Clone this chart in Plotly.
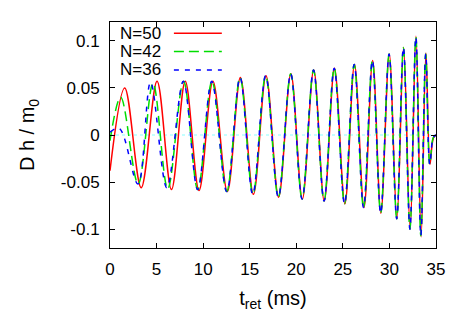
import plotly.graph_objects as go

# N=50 (red, solid) - extrema
t_n50 = [0.0, 1.58, 3.35, 5.05, 6.6, 8.08, 9.56, 11.05, 12.6, 14.0, 15.4, 16.75,
         18.1, 19.42, 20.65, 21.87, 23.0, 24.1, 25.22, 26.25, 27.27, 28.2, 29.08,
         29.98, 30.8, 31.52, 32.22, 32.85, 33.4, 33.92, 34.35, 34.72, 35.0]
h_n50 = [-0.038, 0.050, -0.056, 0.057, -0.058, 0.057, -0.059, 0.057, -0.060, 0.061,
         -0.063, 0.063, -0.066, 0.065, -0.068, 0.069, -0.070, 0.071, -0.073, 0.075,
         -0.077, 0.079, -0.083, 0.086, -0.089, 0.093, -0.100, 0.105, -0.108, 0.087,
         -0.031, -0.003, 0.0]

# N=42 (green, long dash)
t_n42 = [0.0, 1.15, 3.02, 4.62, 6.2, 7.9, 9.42, 10.95, 12.53, 13.96, 15.35, 16.71,
         18.07, 19.4, 20.62, 21.85, 22.98, 24.07, 25.18, 26.22, 27.22, 28.17, 29.06,
         29.96, 30.78, 31.5, 32.2, 32.84, 33.37, 33.9, 34.33, 34.7, 35.0]
h_n42 = [-0.006, 0.040, -0.052, 0.055, -0.057, 0.057, -0.058, 0.057, -0.060, 0.061,
         -0.063, 0.063, -0.066, 0.065, -0.068, 0.069, -0.070, 0.071, -0.073, 0.075,
         -0.077, 0.079, -0.083, 0.086, -0.089, 0.093, -0.100, 0.104, -0.107, 0.086,
         -0.031, -0.003, 0.0]

# N=36 (blue, short dash)
t_n36 = [0.0, 1.0, 3.0, 4.35, 6.1, 7.87, 9.41, 10.92, 12.53, 13.96, 15.32, 16.71,
         18.07, 19.4, 20.62, 21.85, 22.98, 24.07, 25.18, 26.22, 27.22, 28.17, 29.06,
         29.96, 30.78, 31.5, 32.2, 32.84, 33.37, 33.9, 34.33, 34.7, 35.0]
h_n36 = [0.003, 0.007, -0.052, 0.056, -0.056, 0.057, -0.058, 0.057, -0.060, 0.061,
         -0.063, 0.063, -0.066, 0.065, -0.068, 0.069, -0.070, 0.071, -0.073, 0.075,
         -0.077, 0.079, -0.083, 0.086, -0.089, 0.093, -0.100, 0.104, -0.107, 0.086,
         -0.031, -0.003, 0.0]

series = [
    ("N=50", t_n50, h_n50, "#ff0000", "solid"),
    ("N=42", t_n42, h_n42, "#00dd00", "10px,5px"),
    ("N=36", t_n36, h_n36, "#0000ff", "5px,6px"),
]

x_ticks = [0, 5, 10, 15, 20, 25, 30, 35]
y_ticks = [-0.1, -0.05, 0, 0.05, 0.1]
y_labels = ["-0.1", "-0.05", "0", "0.05", "0.1"]

FONT = "Liberation Sans, Arial, sans-serif"

fig = go.Figure()

for name, t, h, col, dash in series:
    fig.add_trace(go.Scatter(
        x=t, y=h,
        mode="lines",
        line=dict(color=col, width=1.5, dash=dash, shape="spline", smoothing=1.0),
        name=name,
        showlegend=False,
    ))

# gnuplot-style key: text first, line sample after
key_y = [0.950, 0.869, 0.788]
for (name, t, h, col, dash), ky in zip(series, key_y):
    fig.add_annotation(
        x=0.163, y=ky, xref="paper", yref="paper",
        text=name, showarrow=False, xanchor="right", yanchor="middle",
        font=dict(family=FONT, size=17, color="black"),
    )
    fig.add_shape(
        type="line", xref="paper", yref="paper",
        x0=0.196, x1=0.343, y0=ky, y1=ky,
        line=dict(color=col, width=1.5, dash=dash),
    )

# dotted zero axis
fig.add_shape(
    type="line", xref="paper", yref="y",
    x0=0, x1=1, y0=0, y1=0,
    line=dict(color="#88ffff", width=1, dash="dot"),
    layer="below",
)

# page body has an 8px margin, so the margins are reduced by 8 on left/top
fig.update_layout(
    width=463, height=324,
    margin=dict(l=102, r=35, t=14, b=84),
    paper_bgcolor="white",
    plot_bgcolor="white",
    font=dict(family=FONT, size=17, color="black"),
    xaxis=dict(
        range=[0, 35],
        tickvals=x_ticks,
        ticks="inside", ticklen=5, tickcolor="black",
        showline=True, linecolor="black", linewidth=1, mirror="ticks",
        showgrid=False, zeroline=False, automargin=False,
        ticklabelstandoff=6,
        title=dict(text="t<sub>ret</sub> (ms)", standoff=12),
    ),
    yaxis=dict(
        range=[-0.12, 0.12],
        tickvals=y_ticks, ticktext=y_labels,
        ticks="inside", ticklen=5, tickcolor="black",
        showline=True, linecolor="black", linewidth=1, mirror="ticks",
        showgrid=False, zeroline=False, automargin=False,
        ticklabelstandoff=6,
        title=dict(text="D h / m<sub>0</sub>", standoff=20),
    ),
)

fig.write_html("out.html")
